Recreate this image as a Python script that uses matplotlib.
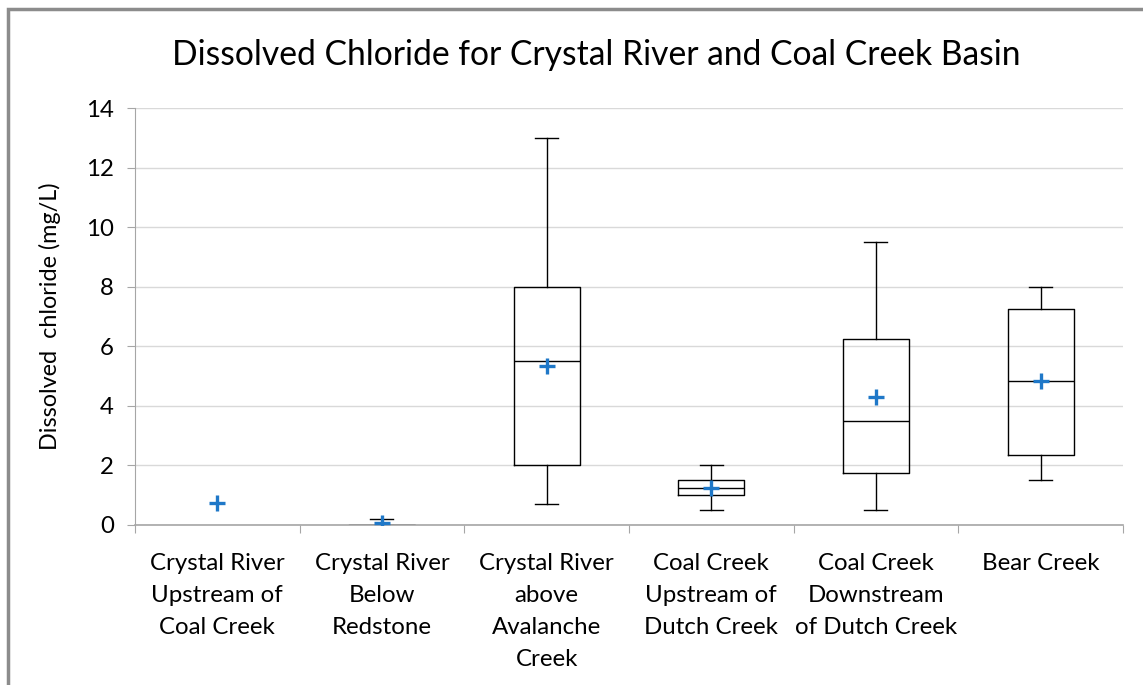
import matplotlib
matplotlib.use("Agg")
import matplotlib.pyplot as plt
from matplotlib.patches import Rectangle

# Data
sites = ["Crystal River\nUpstream of\nCoal Creek", "Crystal River\nBelow\nRedstone",
         "Crystal River\nabove\nAvalanche\nCreek", "Coal Creek\nUpstream of\nDutch Creek",
         "Coal Creek\nDownstream\nof Dutch Creek", "Bear Creek"]
whisker_low = [0.75, 0.0, 0.7, 0.5, 0.5, 1.5]
q1 = [0.75, 0.0, 2.0, 1.0, 1.75, 2.35]
median = [0.75, 0.0, 5.5, 1.25, 3.5, 4.85]
q3 = [0.75, 0.0, 8.0, 1.5, 6.25, 7.25]
whisker_high = [0.75, 0.2, 13.0, 2.0, 9.5, 8.0]
means = [0.75, 0.05, 5.35, 1.25, 4.3, 4.85]
show_box = [False, True, True, True, True, True]

plt.rcParams["font.family"] = ["Lato", "DejaVu Sans"]

fig = plt.figure(figsize=(11.43, 6.85), dpi=100)
ax = fig.add_axes([0.118, 0.2336, 0.8645, 0.6087])

stats = []
for i in range(len(sites)):
    if show_box[i]:
        stats.append(dict(whislo=whisker_low[i], q1=q1[i], med=median[i],
                          q3=q3[i], whishi=whisker_high[i], label=""))
box_pos = [i + 1 for i in range(len(sites)) if show_box[i]]

line = dict(color="black", linewidth=1.0)
ax.bxp(stats, positions=box_pos, widths=0.4, showfliers=False,
       boxprops=line, whiskerprops=line, capprops=line,
       medianprops=line, capwidths=0.14, manage_ticks=False)

ax.plot(range(1, len(sites) + 1), means, linestyle="none", marker="+",
        markersize=11, markeredgewidth=2.4, color="#1f78c8", zorder=5)

ax.set_xlim(0.5, len(sites) + 0.5)
ax.set_ylim(0, 14)
ax.set_yticks(range(0, 15, 2))
ax.yaxis.grid(True, color="#d9d9d9", linewidth=1)
ax.set_axisbelow(True)

ax.set_xticks([i + 0.5 for i in range(len(sites) + 1)])
ax.set_xticklabels([])
ax.set_xticks(range(1, len(sites) + 1), minor=True)
ax.set_xticklabels(sites, minor=True, fontsize=17.3, linespacing=1.66, va="top")
ax.tick_params(axis="x", which="minor", length=0, pad=20)
ax.tick_params(axis="x", which="major", length=6, color="#a6a6a6", direction="out")
ax.tick_params(axis="y", length=6, color="#a6a6a6", labelsize=17.3, pad=9)

for side in ["top", "right"]:
    ax.spines[side].set_visible(False)
ax.spines["left"].set_color("#a6a6a6")
ax.spines["bottom"].set_color("#a6a6a6")
ax.spines["bottom"].set_linewidth(1.2)

ax.set_ylabel("Dissolved  chloride (mg/L)", fontsize=16.8, labelpad=18)
fig.text(0.522, 0.92, "Dissolved Chloride for Crystal River and Coal Creek Basin",
         ha="center", va="center", fontsize=24.2)

fig.patches.append(Rectangle((8 / 1143, -0.1), 1.2, 1 - 9 / 685 + 0.1,
                             transform=fig.transFigure, fill=False,
                             edgecolor="#8c8c8c", linewidth=2.5, clip_on=False))

fig.savefig("out.png", dpi=100)
